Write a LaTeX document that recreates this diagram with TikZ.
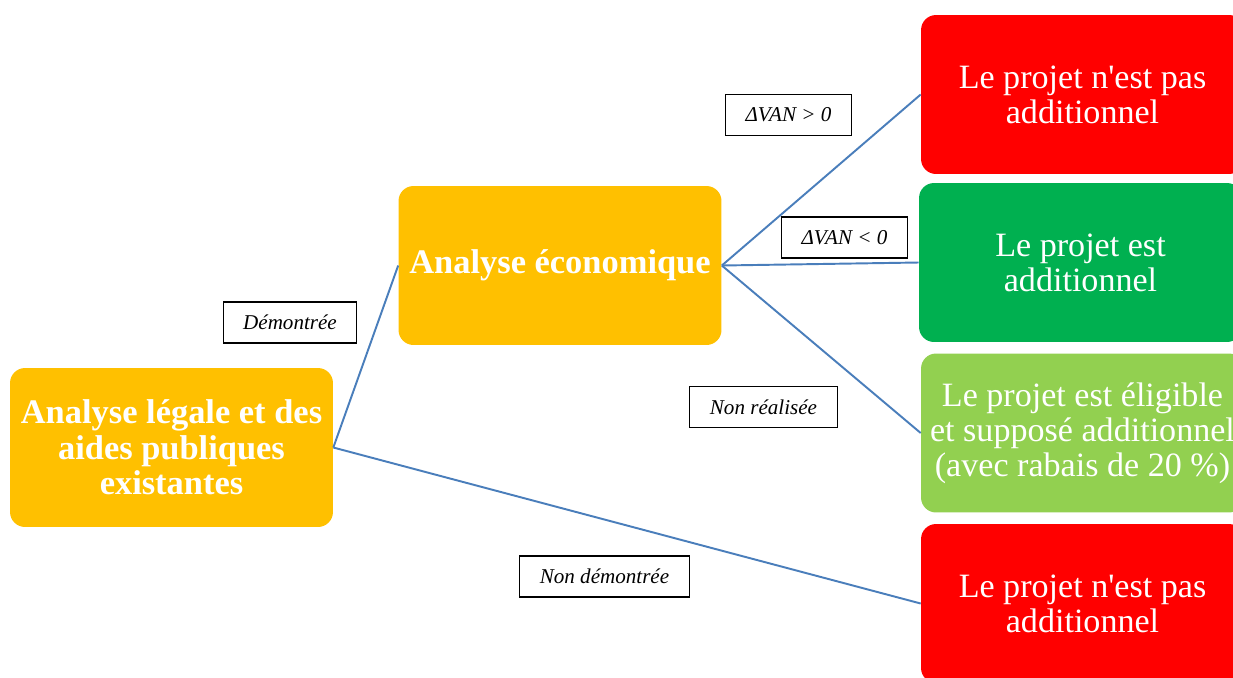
\documentclass[tikz,border=0pt]{standalone}
\usepackage{fontspec}
\setmainfont{Liberation Serif}
\definecolor{orangebox}{RGB}{255,192,0}
\definecolor{rougebox}{RGB}{255,0,0}
\definecolor{vertbox}{RGB}{0,176,80}
\definecolor{vertclair}{RGB}{146,208,80}
\definecolor{lienbleu}{RGB}{74,126,187}
\begin{document}
\begin{tikzpicture}[x=0.02cm, y=-0.02cm,
		boite/.style={rounded corners=0.3cm, minimum width=6.46cm, minimum height=3.18cm,
			align=center, text=white, font=\fontsize{19.4}{20}\selectfont, inner sep=1pt},
		etiquette/.style={draw=black, fill=white, semithick, font=\fontsize{12}{13}\selectfont\itshape,
			inner xsep=0.4cm, minimum height=0.82cm},
		lien/.style={draw=lienbleu, line width=1.1pt}]
		\useasboundingbox (0,0) rectangle (1233,677);
		\clip (0,0) rectangle (1233,677);
		
		% --- ANALYSES (orange) ---
		\node[boite, fill=orangebox, font=\fontsize{19.6}{20.2}\selectfont\bfseries] (legale) at (171.5, 447.5) {Analyse légale et des\\aides publiques\\existantes};
		\node[boite, fill=orangebox, font=\fontsize{19.6}{20.2}\selectfont\bfseries] (eco) at (560, 265.5) {Analyse économique};
		
		% --- CONCLUSIONS (right column) ---
		\node[boite, fill=rougebox] (nonadd1) at (1082.5, 94.5) {Le projet n\textquotesingle est pas\\additionnel};
		\node[boite, fill=vertbox] (add) at (1080.5, 262.5) {Le projet est\\additionnel};
		\node[boite, fill=vertclair] (eligible) at (1082.5, 433) {Le projet est éligible\\et supposé additionnel\\(avec rabais de 20 \%)};
		\node[boite, fill=rougebox] (nonadd2) at (1082.5, 603.5) {Le projet n\textquotesingle est pas\\additionnel};
		
		% --- LIENS ---
		\draw[lien] (legale.east) -- (eco.west);
		\draw[lien] (legale.east) -- (nonadd2.west);
		\foreach \cible in {nonadd1, add, eligible} {
			\draw[lien] (eco.east) -- (\cible.west);
		}
		
		% --- ETIQUETTES ---
		\node[etiquette] (demontree) at (290, 322.5) {Démontrée};
		\node[etiquette] (vanpos) at (788.5, 115) {ΔVAN > 0};
		\node[etiquette] (vanneg) at (844.5, 237.5) {ΔVAN < 0};
		\node[etiquette] (nonrealisee) at (763.5, 407) {Non réalisée};
		\node[etiquette] (nondemontree) at (604.5, 576.5) {Non démontrée};
		
	\end{tikzpicture}
\end{document}
